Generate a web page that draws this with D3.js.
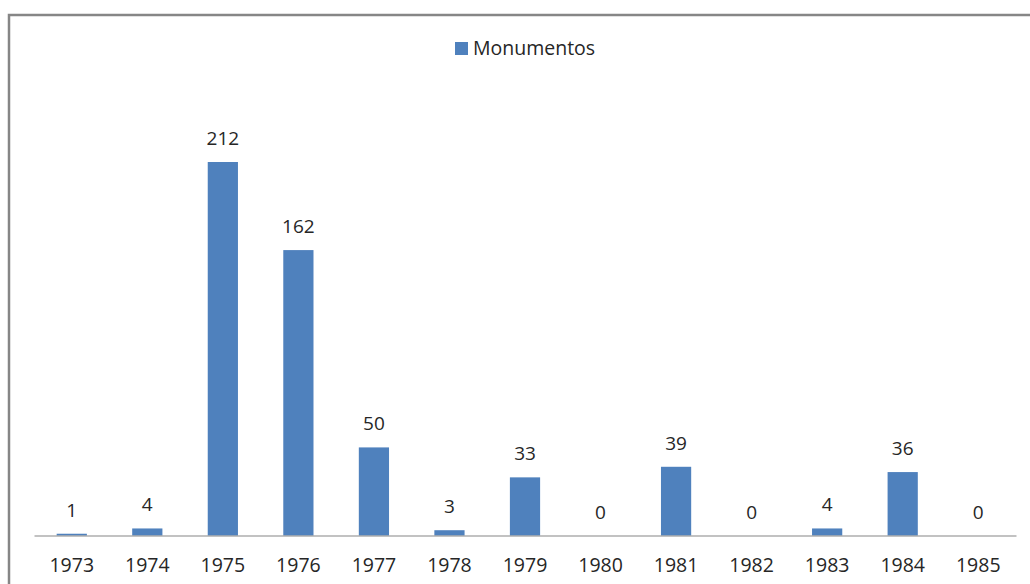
<!DOCTYPE html>
<html>
<head>
<meta charset="utf-8">
<script src="https://cdn.jsdelivr.net/npm/d3@7"></script>
<style>
  body { margin: 0; background: #fff; }
  text { font-family: "Open Sans", "Noto Sans", sans-serif; fill: #262626; }
</style>
</head>
<body>
<div class="chart"></div>
<script>
"use strict";
const years = ["1973","1974","1975","1976","1977","1978","1979","1980","1981","1982","1983","1984","1985"];
const monumentos = [1, 4, 212, 162, 50, 3, 33, 0, 39, 0, 4, 36, 0];
const seriesName = "Monumentos";

const width = 1030, height = 584;
const barColor = "#4f81bd";

const svg = d3.select(".chart").append("svg")
    .attr("width", width)
    .attr("height", height);

// outer frame (left and top edges visible)
svg.append("path")
    .attr("d", "M9,584 L9,15 L1030,15")
    .attr("fill", "none")
    .attr("stroke", "#868686")
    .attr("stroke-width", 2.5);

let x = d3.scaleBand().domain(years).range([34, 1016]).paddingInner(0.6).paddingOuter(0.3);
let y = d3.scaleLinear().domain([0, 212]).range([535.5, 162]);

svg.selectAll("rect.bar")
    .data(monumentos)
    .enter().append("rect")
    .attr("class", "bar")
    .attr("x", (d, i) => x(years[i]))
    .attr("width", x.bandwidth())
    .attr("y", d => y(d))
    .attr("height", d => y(0) - y(d))
    .attr("fill", barColor);

svg.selectAll("text.val")
    .data(monumentos)
    .enter().append("text")
    .attr("class", "val")
    .attr("x", (d, i) => x(years[i]) + x.bandwidth() / 2)
    .attr("y", d => y(d) - 17)
    .attr("text-anchor", "middle")
    .style("font-size", "19px")
    .text(d => d);

let xAxis = d3.axisBottom(x).tickSize(0).tickPadding(23);
let gx = svg.append("g")
    .attr("class", "x axis")
    .attr("transform", "translate(0," + y(0) + ")")
    .call(xAxis);
gx.select(".domain").attr("stroke", "#868686").attr("stroke-width", 1.2);
gx.selectAll("text").style("font-size", "19.5px").attr("fill", "#262626")
    .style("font-family", "'Open Sans', 'Noto Sans', sans-serif");

// legend
let legend = svg.append("g").attr("transform", "translate(455,42)");
legend.append("rect").attr("width", 13).attr("height", 13).attr("fill", barColor);
legend.append("text")
    .attr("x", 18).attr("y", 13)
    .style("font-size", "19.5px")
    .text(seriesName);
</script>
</body>
</html>
